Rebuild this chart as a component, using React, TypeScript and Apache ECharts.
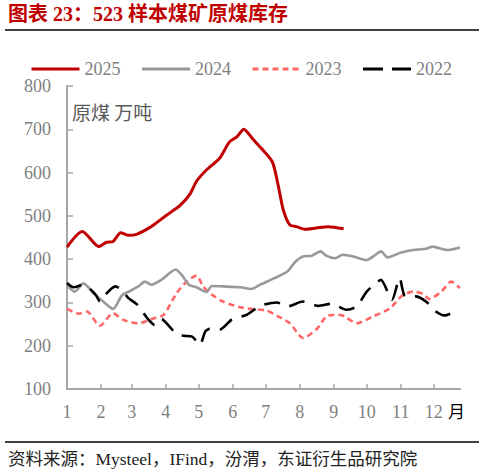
import React, { useEffect, useRef } from "react";
import * as echarts from "echarts";

// Month starts (day of year) and their labels
const monthStartDays = [0, 31, 59, 90, 120, 151, 181, 212, 243, 273, 304, 334];
const monthLabels = ["1", "2", "3", "4", "5", "6", "7", "8", "9", "10", "11", "12"];

const seriesNames = ["2025", "2024", "2023", "2022"];

// 2025
const days2025 = [0, 14, 29, 36, 42, 49, 56, 64, 76, 82, 91, 103, 112, 118, 127, 139, 148, 155, 161, 170, 177, 187, 192, 197, 203, 209, 217, 227, 238, 252];
const values2025 = [428, 464, 429, 439, 441, 461, 455, 458, 474, 485, 502, 524, 550, 580, 606, 633, 671, 683, 700, 675, 656, 625, 575, 514, 479, 475, 469, 472, 475, 470];

// 2024
const days2024 = [0, 7, 15, 24, 33, 42, 50, 58, 65, 71, 77, 86, 99, 105, 111, 118, 127, 132, 142, 158, 168, 176, 189, 201, 208, 215, 223, 231, 236, 244, 251, 261, 273, 280, 286, 292, 303, 315, 327, 333, 346, 358];
const values2024 = [340, 325, 344, 322, 302, 285, 316, 327, 337, 348, 341, 352, 376, 362, 341, 335, 324, 338, 337, 335, 331, 341, 356, 372, 394, 406, 408, 418, 408, 402, 410, 406, 398, 408, 418, 404, 414, 421, 424, 429, 421, 427];

// 2023
const days2023 = [0, 11, 18, 30, 42, 51, 65, 80, 88, 100, 109, 118, 124, 132, 142, 161, 182, 192, 203, 215, 227, 238, 249, 264, 279, 294, 305, 315, 324, 330, 341, 350, 358];
const values2023 = [285, 274, 279, 246, 275, 260, 252, 264, 271, 322, 348, 362, 337, 318, 302, 287, 281, 268, 252, 218, 237, 270, 271, 252, 268, 286, 315, 325, 320, 308, 325, 348, 333];

// 2022
const days2022 = [0, 6, 15, 26, 30, 35, 44, 50, 56, 64, 73, 80, 86, 92, 100, 106, 114, 121, 126, 130, 139, 150, 164, 176, 191, 201, 215, 229, 241, 255, 264, 273, 282, 286, 296, 303, 308, 318, 327, 336, 344, 350];
const values2022 = [345, 335, 341, 318, 302, 318, 337, 329, 310, 295, 264, 248, 262, 248, 227, 223, 221, 202, 233, 239, 237, 260, 272, 292, 300, 291, 302, 292, 297, 283, 291, 325, 346, 352, 306, 356, 315, 314, 302, 279, 270, 275];

const zip = (d: number[], v: number[]) => d.map((x, i) => [x, v[i]]);

const SERIF = "'Liberation Serif', 'Noto Sans CJK SC', serif";

export default function App() {
  const ref = useRef<HTMLDivElement>(null);

  useEffect(() => {
    if (!ref.current) return;
    const chart = echarts.init(ref.current, undefined, { renderer: "svg" });
    const option: any = {
      animation: false,
      backgroundColor: "#ffffff",
      grid: { left: 67, right: 24, top: 86, bottom: 87, containLabel: false },
      legend: {
        top: 60,
        left: 30,
        padding: 0,
        itemWidth: 48,
        itemHeight: 14,
        itemGap: 20,
        itemStyle: { opacity: 0 },
        textStyle: { color: "#7f7f7f", fontSize: 18, fontFamily: SERIF },
        data: seriesNames.map((n) =>
          n === "2022"
            ? { name: n, lineStyle: { type: [20, 9], width: 3 } }
            : { name: n, lineStyle: { width: 3 } }
        ),
      },
      xAxis: {
        type: "value",
        min: 0,
        max: 358,
        splitLine: { show: false },
        axisLine: { lineStyle: { color: "#a6a6a6", width: 2 } },
        axisTick: {
          show: true,
          inside: true,
          length: 5,
          customValues: monthStartDays,
          lineStyle: { color: "#a6a6a6", width: 1.5 },
        },
        axisLabel: {
          customValues: monthStartDays,
          margin: 14,
          color: "#7f7f7f",
          fontSize: 18,
          fontFamily: SERIF,
          formatter: (v: number) => {
            const i = monthStartDays.indexOf(Math.round(v));
            return i >= 0 ? monthLabels[i] : "";
          },
        },
      },
      yAxis: {
        type: "value",
        min: 100,
        max: 800,
        interval: 100,
        splitLine: { show: false },
        axisLine: { show: true, lineStyle: { color: "#a6a6a6", width: 2 } },
        axisTick: { show: true, inside: true, length: 6, lineStyle: { color: "#a6a6a6", width: 1.5 } },
        axisLabel: { margin: 16, color: "#7f7f7f", fontSize: 18, fontFamily: SERIF },
      },
      series: [
        {
          name: "2025",
          type: "line",
          symbol: "none",
          smooth: 0.25,
          data: zip(days2025, values2025),
          lineStyle: { color: "#c00000", width: 3 },
          itemStyle: { color: "#c00000" },
          z: 5,
        },
        {
          name: "2024",
          type: "line",
          symbol: "none",
          smooth: 0.25,
          data: zip(days2024, values2024),
          lineStyle: { color: "#999999", width: 2.6 },
          itemStyle: { color: "#999999" },
          z: 3,
        },
        {
          name: "2023",
          type: "line",
          symbol: "none",
          smooth: 0.25,
          data: zip(days2023, values2023),
          lineStyle: { color: "#ff6666", width: 2.6, type: [6, 4] },
          itemStyle: { color: "#ff6666" },
          z: 2,
        },
        {
          name: "2022",
          type: "line",
          symbol: "none",
          smooth: 0.25,
          data: zip(days2022, values2022),
          lineStyle: { color: "#000000", width: 2.6, type: [16, 10] },
          itemStyle: { color: "#000000" },
          z: 4,
        },
      ],
      graphic: [
        {
          type: "text",
          left: 8,
          top: 4,
          style: {
            text: "图表 23：523 样本煤矿原煤库存",
            fill: "#c00000",
            font: "bold 20px 'Liberation Serif', 'Noto Sans CJK SC', serif",
          },
        },
        {
          type: "line",
          shape: { x1: 5, y1: 30, x2: 479, y2: 30 },
          style: { stroke: "#000000", lineWidth: 1.5 },
        },
        {
          type: "text",
          left: 72,
          top: 102,
          style: {
            text: "原煤 万吨",
            fill: "#595959",
            font: "19px 'Noto Sans CJK SC', sans-serif",
          },
        },
        {
          type: "text",
          left: 448,
          top: 402,
          style: {
            text: "月",
            fill: "#000000",
            font: "17px 'Noto Sans CJK SC', sans-serif",
          },
        },
        {
          type: "line",
          shape: { x1: 5, y1: 442, x2: 479, y2: 442 },
          style: { stroke: "#000000", lineWidth: 1.5 },
        },
        {
          type: "text",
          left: 8,
          top: 450,
          style: {
            text: "资料来源：Mysteel，IFind，汾渭，东证衍生品研究院",
            fill: "#222222",
            font: "17.5px 'Liberation Serif', 'Noto Sans CJK SC', serif",
          },
        },
      ],
    };
    chart.setOption(option);
    return () => chart.dispose();
  }, []);

  return (
    <div
      ref={ref}
      style={{ position: "fixed", left: 0, top: 0, width: 484, height: 476, background: "#fff" }}
    />
  );
}
